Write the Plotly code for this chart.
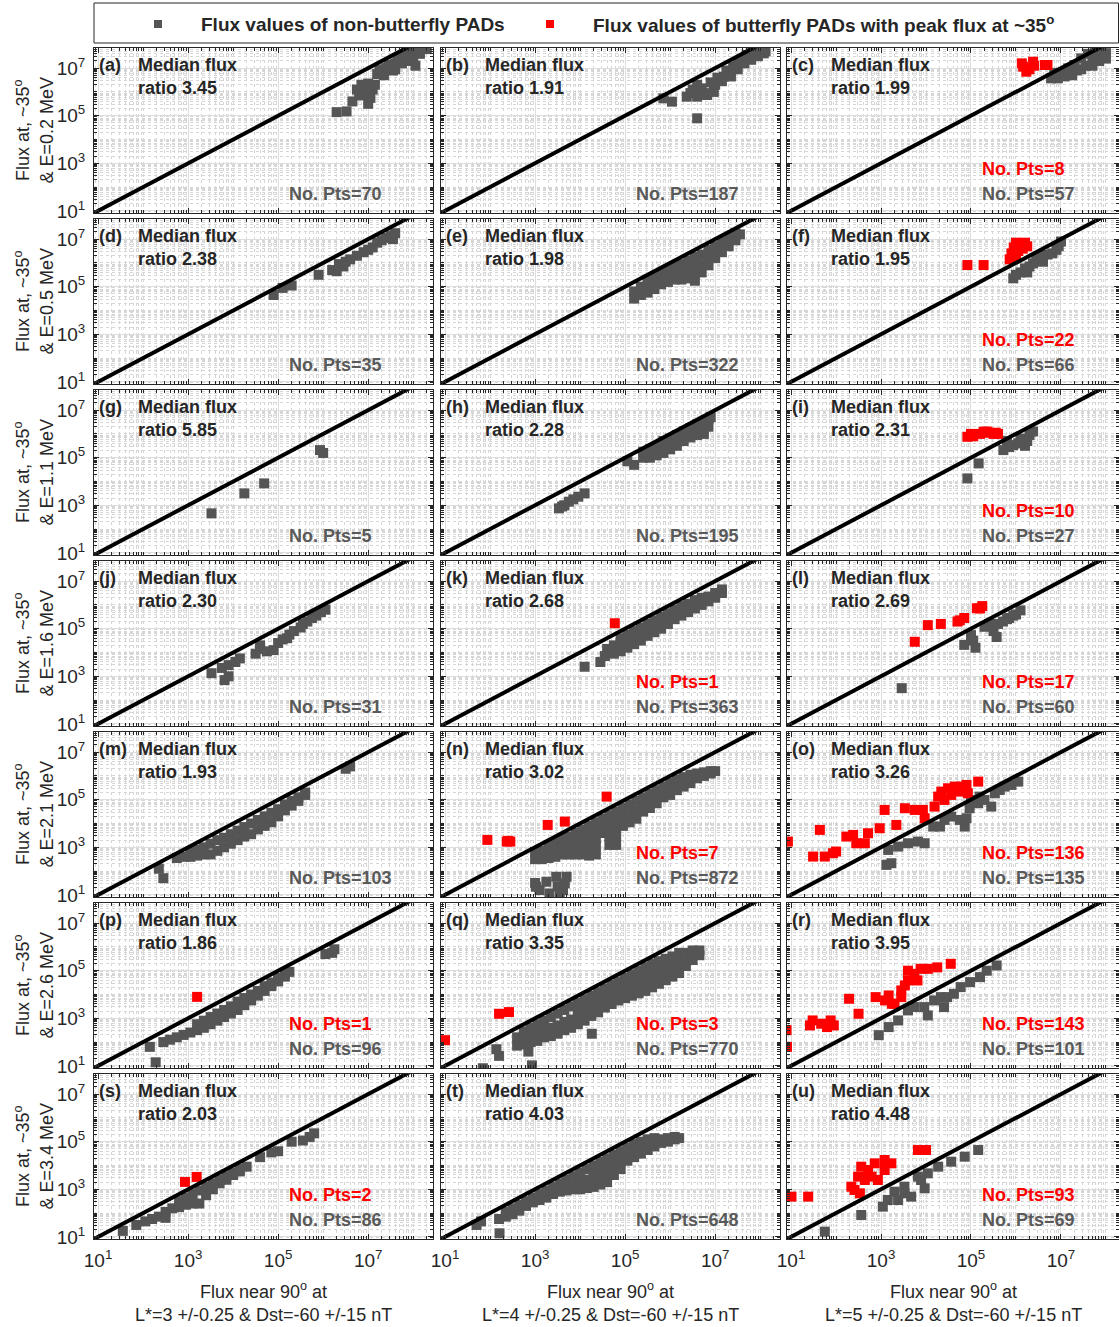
import plotly.graph_objects as go

W, H = 1119, 1327
FONT = "Liberation Sans, Arial, sans-serif"
GREY = "#555555"
RED = "#ff0000"
TXT = "#262626"

# ---------------- data (log10 of flux values) -------------
letters = list("abcdefghijklmnopqrstu")
energies = ["0.2", "0.5", "1.1", "1.6", "2.1", "2.6", "3.4"]
lstars = ["3", "4", "5"]
ratios = ["3.45", "1.91", "1.99", "2.38", "1.98", "1.95", "5.85", "2.28", "2.31",
          "2.30", "2.68", "2.69", "1.93", "3.02", "3.26", "1.86", "3.35", "3.95",
          "2.03", "4.03", "4.48"]
n_grey = [70, 187, 57, 35, 322, 66, 5, 195, 27, 31, 363, 60, 103, 872, 135, 96, 770,
          101, 86, 648, 69]
n_red = [None, None, 8, None, None, 22, None, None, 10, None, 1, 17, None, 7, 136, 1,
         3, 143, 2, None, 93]

grey_a = [(6.3, 5.15), (6.52, 5.18), (6.65, 5.6), (6.75, 6.1), (6.8, 5.85), (6.85, 6.3),
          (6.9, 5.9), (6.95, 6.25), (7.0, 5.5), (7.0, 6.35), (7.05, 5.75), (7.1, 6.1),
          (7.15, 6.3), (7.2, 6.75), (7.25, 6.95), (7.3, 6.9), (7.35, 6.7), (7.4, 7.0),
          (7.45, 7.15), (7.5, 7.1), (7.55, 6.9), (7.6, 7.2), (7.6, 6.95), (7.65, 7.4),
          (7.7, 7.35), (7.75, 7.2), (7.8, 7.5), (7.85, 7.6), (7.85, 7.3), (7.9, 7.65),
          (7.95, 7.45), (8.0, 7.75), (8.0, 7.5), (8.05, 7.1), (8.1, 7.75), (8.15, 7.6),
          (8.2, 7.8), (8.3, 7.8)]
grey_b = [(5.85, 5.73), (6.04, 5.59), (6.37, 5.8), (6.45, 5.95), (6.5, 6.1), (6.6, 5.8),
          (6.6, 6.3), (6.6, 4.89), (6.7, 6.15), (6.75, 5.95), (6.82, 5.87), (6.9, 6.4),
          (6.97, 6.0), (7.0, 6.3), (7.05, 6.6), (7.15, 6.45), (7.19, 6.64), (7.25, 6.9),
          (7.34, 6.8), (7.35, 6.65), (7.4, 7.05), (7.49, 7.13), (7.5, 6.95), (7.55, 7.3),
          (7.64, 7.41), (7.65, 7.2), (7.7, 7.55), (7.79, 7.62), (7.8, 7.35), (7.85, 7.75),
          (7.94, 7.76), (7.95, 7.5), (8.0, 7.65), (8.08, 7.62), (8.12, 7.7)]
grey_c = [(6.78, 6.57), (6.85, 6.8), (6.93, 6.57), (7.0, 6.78), (7.08, 6.65), (7.16, 6.99),
          (7.2, 6.85), (7.25, 6.7), (7.3, 7.13), (7.35, 6.9), (7.45, 7.41), (7.45, 6.95),
          (7.55, 7.1), (7.6, 7.6), (7.7, 7.1), (7.7, 7.35), (7.75, 7.76), (7.85, 7.3),
          (7.85, 7.55), (7.9, 7.76), (8.0, 7.63), (8.0, 7.4)]
red_c = [(6.13, 7.2), (6.16, 7.06), (6.23, 6.85), (6.3, 6.95), (6.38, 7.27), (6.4, 7.1),
         (6.64, 7.13), (6.7, 7.13)]
grey_d = [(4.9, 4.65), (5.1, 4.95), (5.3, 5.05), (5.9, 5.5), (6.2, 5.7), (6.3, 5.65),
          (6.35, 5.95), (6.45, 5.85), (6.5, 6.05), (6.6, 6.15), (6.75, 6.3), (6.9, 6.45),
          (7.0, 6.55), (7.1, 6.65), (7.2, 6.85), (7.3, 6.95), (7.4, 7.05), (7.5, 7.15),
          (7.55, 7.0), (7.6, 7.25)]
grey_e = [(5.2, 4.5), (5.2, 4.8), (5.35, 4.65), (5.35, 5.0), (5.5, 4.75), (5.5, 5.05),
          (5.5, 5.3), (5.65, 4.9), (5.65, 5.2), (5.65, 5.4), (5.8, 5.1), (5.8, 5.4),
          (5.8, 5.55), (5.95, 5.2), (5.95, 5.5), (5.95, 5.7), (6.1, 5.3), (6.1, 5.6),
          (6.1, 5.85), (6.25, 5.3), (6.25, 5.6), (6.25, 5.95), (6.4, 5.35), (6.4, 5.7),
          (6.4, 6.1), (6.55, 5.25), (6.55, 5.6), (6.55, 5.9), (6.55, 6.25), (6.7, 5.6),
          (6.7, 5.95), (6.7, 6.35), (6.85, 5.9), (6.85, 6.2), (6.85, 6.55), (7.0, 6.2),
          (7.0, 6.5), (7.0, 6.7), (7.15, 6.45), (7.15, 6.75), (7.15, 6.9), (7.3, 6.7),
          (7.3, 6.95), (7.3, 7.05), (7.45, 6.95), (7.45, 7.15), (7.45, 7.25), (7.55, 7.2)]
grey_f = [(5.94, 5.35), (6.0, 5.5), (6.1, 5.6), (6.2, 5.77), (6.25, 5.6), (6.3, 5.85),
          (6.38, 5.98), (6.45, 6.1), (6.5, 6.2), (6.6, 6.05), (6.6, 6.3), (6.7, 6.35),
          (6.81, 6.4), (6.9, 6.55), (6.95, 6.7), (7.0, 6.9)]
red_f = [(4.92, 5.91), (5.28, 5.91), (5.86, 6.15), (5.9, 6.4), (5.95, 6.65), (6.0, 6.85),
         (6.0, 6.25), (6.05, 6.5), (6.1, 6.8), (6.15, 6.6), (6.2, 6.85), (6.25, 6.7)]
grey_g = [(3.52, 2.66), (4.25, 3.5), (4.69, 3.92), (5.93, 5.32), (6.0, 5.2)]
grey_h = [(3.53, 2.87), (3.6, 2.95), (3.65, 3.0), (3.75, 3.15), (3.85, 3.25), (3.96, 3.36),
          (4.1, 3.5), (5.05, 4.85), (5.2, 4.7), (5.4, 5.0), (5.4, 5.25), (5.55, 5.0),
          (5.55, 5.35), (5.7, 5.1), (5.7, 5.45), (5.85, 5.2), (5.85, 5.55), (5.85, 5.7),
          (6.0, 5.35), (6.0, 5.65), (6.0, 5.8), (6.15, 5.5), (6.15, 5.8), (6.15, 5.95),
          (6.3, 5.7), (6.3, 5.95), (6.3, 6.1), (6.45, 5.85), (6.45, 6.1), (6.45, 6.25),
          (6.6, 5.95), (6.6, 6.25), (6.6, 6.4), (6.75, 6.0), (6.75, 6.35), (6.75, 6.5),
          (6.85, 6.3), (6.85, 6.6), (6.9, 6.7)]
grey_i = [(4.92, 4.13), (5.17, 4.76), (5.72, 5.32), (5.8, 5.7), (5.85, 5.45), (5.94, 5.53),
          (6.05, 5.6), (6.1, 5.8), (6.2, 5.5), (6.25, 5.7), (6.3, 5.95), (6.38, 6.1)]
red_i = [(4.92, 5.88), (5.0, 6.0), (5.05, 5.9), (5.2, 6.0), (5.28, 6.09), (5.35, 6.1),
         (5.4, 6.05), (5.5, 6.0), (5.55, 6.05), (5.6, 6.0)]
grey_j = [(3.52, 3.13), (3.75, 3.35), (3.81, 2.84), (3.9, 3.0), (3.9, 3.47), (4.05, 3.6),
          (4.15, 3.75), (4.5, 3.95), (4.6, 4.15), (4.6, 4.3), (4.75, 4.05), (4.9, 4.1),
          (5.0, 4.4), (5.1, 4.55), (5.2, 4.6), (5.25, 4.75), (5.35, 4.9), (5.5, 5.05),
          (5.55, 5.2), (5.65, 5.3), (5.75, 5.45), (5.85, 5.55), (5.95, 5.7), (6.05, 5.8)]
grey_k = [(4.1, 3.4), (4.45, 3.6), (4.55, 3.85), (4.6, 4.15), (4.75, 3.95), (4.75, 4.3),
          (4.9, 4.05), (4.9, 4.4), (4.9, 4.6), (5.05, 4.2), (5.05, 4.55), (5.05, 4.75),
          (5.2, 4.35), (5.2, 4.7), (5.2, 4.9), (5.35, 4.5), (5.35, 4.85), (5.35, 5.05),
          (5.5, 4.7), (5.5, 5.0), (5.5, 5.2), (5.65, 4.85), (5.65, 5.15), (5.65, 5.35),
          (5.8, 5.0), (5.8, 5.3), (5.8, 5.5), (5.95, 5.2), (5.95, 5.45), (5.95, 5.65),
          (6.1, 5.4), (6.1, 5.6), (6.1, 5.8), (6.25, 5.55), (6.25, 5.75), (6.25, 5.95),
          (6.4, 5.7), (6.4, 5.9), (6.4, 6.05), (6.55, 5.85), (6.55, 6.05), (6.55, 6.2),
          (6.7, 6.0), (6.7, 6.2), (6.7, 6.3), (6.85, 6.15), (6.85, 6.35), (7.0, 6.3),
          (7.0, 6.5), (7.15, 6.5), (7.15, 6.65)]
red_k = [(4.77, 5.23)]
grey_l = [(3.46, 2.5), (4.85, 4.32), (5.0, 4.73), (5.05, 4.5), (5.1, 4.2), (5.3, 5.08),
          (5.4, 5.2), (5.5, 4.9), (5.57, 4.65), (5.6, 5.2), (5.71, 5.3), (5.8, 5.4),
          (5.85, 5.45), (5.94, 5.55), (6.0, 5.6), (6.1, 5.77)]
red_l = [(3.75, 4.45), (4.04, 5.15), (4.33, 5.2), (4.7, 5.3), (4.75, 5.35), (4.85, 5.45),
         (5.13, 5.86), (5.2, 5.85), (5.25, 5.95)]
grey_m = [(2.35, 2.1), (2.45, 1.7), (2.75, 2.55), (2.9, 2.6), (3.05, 2.6), (3.05, 2.8),
          (3.2, 2.65), (3.2, 2.9), (3.35, 2.7), (3.35, 3.0), (3.5, 2.7), (3.5, 3.15),
          (3.65, 2.85), (3.65, 3.3), (3.8, 3.0), (3.8, 3.4), (3.95, 3.15), (3.95, 3.55),
          (4.1, 3.3), (4.1, 3.7), (4.25, 3.45), (4.25, 3.85), (4.4, 3.55), (4.4, 4.0),
          (4.55, 3.75), (4.55, 4.15), (4.7, 3.9), (4.7, 4.3), (4.85, 4.05), (4.85, 4.45),
          (5.0, 4.3), (5.0, 4.6), (5.15, 4.55), (5.15, 4.8), (5.3, 4.75), (5.3, 4.95),
          (5.45, 4.95), (5.45, 5.1), (5.6, 5.2), (5.6, 5.3), (6.5, 6.3), (6.6, 6.4)]
grey_n = [(3.0, 2.5), (3.0, 2.8), (3.15, 2.5), (3.15, 2.85), (3.3, 2.55), (3.3, 2.9),
          (3.3, 3.05), (3.45, 2.6), (3.45, 2.95), (3.45, 3.2), (3.6, 2.7), (3.6, 3.0),
          (3.6, 3.35), (3.75, 2.7), (3.75, 3.05), (3.75, 3.45), (3.9, 2.7), (3.9, 3.05),
          (3.9, 3.4), (3.9, 3.6), (4.05, 2.7), (4.05, 3.05), (4.05, 3.4), (4.05, 3.75),
          (4.2, 2.65), (4.2, 3.0), (4.2, 3.35), (4.2, 3.7), (4.2, 3.9), (4.35, 2.7),
          (4.35, 3.05), (4.35, 3.4), (4.35, 3.75), (4.35, 4.05), (4.5, 3.6), (4.5, 3.9),
          (4.5, 4.2), (4.65, 3.1), (4.65, 3.45), (4.65, 3.8), (4.65, 4.1), (4.65, 4.35),
          (4.8, 3.1), (4.8, 3.45), (4.8, 3.8), (4.8, 4.15), (4.8, 4.5), (4.95, 3.9),
          (4.95, 4.25), (4.95, 4.65), (5.1, 4.05), (5.1, 4.4), (5.1, 4.8), (5.25, 4.2),
          (5.25, 4.55), (5.25, 4.95), (5.4, 4.5), (5.4, 4.8), (5.4, 5.1), (5.55, 4.65),
          (5.55, 4.95), (5.55, 5.25), (5.7, 4.85), (5.7, 5.1), (5.7, 5.4), (5.85, 5.1),
          (5.85, 5.3), (5.85, 5.55), (6.0, 5.2), (6.0, 5.45), (6.0, 5.7), (6.15, 5.4),
          (6.15, 5.6), (6.15, 5.85), (6.3, 5.55), (6.3, 5.8), (6.3, 5.95), (6.45, 5.7),
          (6.45, 5.9), (6.45, 6.05), (6.6, 5.9), (6.6, 6.1), (6.75, 6.0), (6.75, 6.15),
          (6.9, 6.1), (6.9, 6.2), (7.0, 6.2),
          (3.0, 1.5), (3.02, 1.34), (3.1, 1.2), (3.25, 1.55), (3.32, 1.06), (3.47, 1.76),
          (3.5, 1.35), (3.62, 1.2), (3.66, 1.48), (3.7, 1.76), (3.55, 1.0)]
red_n = [(1.94, 3.31), (2.37, 3.24), (2.4, 3.27), (2.45, 3.24), (3.28, 3.94), (3.66, 4.08),
         (4.59, 5.13)]
grey_o = [(3.12, 2.26), (3.23, 2.33), (3.16, 2.89), (3.38, 3.03), (3.6, 3.17), (3.82, 3.24),
          (3.97, 3.17), (4.16, 3.87), (4.31, 3.87), (4.41, 4.15), (4.56, 4.29), (4.75, 4.15),
          (4.86, 3.87), (4.9, 4.22), (4.97, 4.64), (5.0, 4.99), (5.16, 4.85), (5.19, 5.13),
          (5.3, 4.99), (5.45, 4.71), (5.53, 5.27), (5.64, 5.41), (5.75, 5.55), (5.9, 5.62),
          (6.05, 5.76)]
red_o = [(0.93, 3.24), (1.49, 2.61), (1.64, 3.73), (1.75, 2.61), (1.93, 2.75), (2.0, 2.82),
         (2.23, 3.45), (2.38, 3.52), (2.45, 3.17), (2.64, 3.17), (2.71, 3.59), (2.97, 3.8),
         (3.08, 4.57), (3.34, 3.94), (3.53, 4.64), (3.75, 4.57), (3.93, 4.57), (3.97, 4.22),
         (4.19, 4.71), (4.27, 5.13), (4.34, 5.34), (4.41, 4.99), (4.49, 5.48), (4.56, 5.2),
         (4.64, 5.55), (4.75, 5.34), (4.79, 5.55), (4.9, 5.62), (4.93, 5.27), (5.16, 5.76)]
grey_p = [(2.15, 1.8), (2.28, 1.15), (2.45, 2.0), (2.6, 2.1), (2.75, 2.2), (2.9, 2.3),
          (3.05, 2.4), (3.2, 2.5), (3.2, 2.75), (3.35, 2.6), (3.35, 2.9), (3.5, 2.75),
          (3.5, 3.05), (3.65, 2.9), (3.65, 3.2), (3.8, 3.05), (3.8, 3.35), (3.95, 3.2),
          (3.95, 3.5), (4.1, 3.35), (4.1, 3.7), (4.25, 3.55), (4.25, 3.85), (4.4, 3.75),
          (4.4, 4.0), (4.55, 3.95), (4.55, 4.15), (4.7, 4.15), (4.7, 4.35), (4.85, 4.35),
          (4.85, 4.5), (5.0, 4.55), (5.0, 4.7), (5.15, 4.75), (5.15, 4.85), (5.25, 4.95),
          (6.05, 5.7), (6.2, 5.75), (6.25, 5.9)]
red_p = [(3.2, 3.9)]
grey_q = [(2.6, 1.85), (2.6, 2.2), (2.75, 1.9), (2.75, 2.25), (2.75, 2.45), (2.9, 2.0),
          (2.9, 2.35), (2.9, 2.6), (3.05, 2.05), (3.05, 2.4), (3.05, 2.75), (3.2, 2.2),
          (3.2, 2.55), (3.2, 2.9), (3.35, 2.25), (3.35, 2.6), (3.35, 3.05), (3.5, 2.35),
          (3.5, 2.7), (3.5, 3.2), (3.65, 2.5), (3.65, 2.85), (3.65, 3.35), (3.8, 2.6),
          (3.8, 2.95), (3.8, 3.5), (3.95, 2.75), (3.95, 3.1), (3.95, 3.4), (3.95, 3.65),
          (4.1, 2.9), (4.1, 3.25), (4.1, 3.55), (4.1, 3.8), (4.25, 3.1), (4.25, 3.4),
          (4.25, 3.7), (4.25, 3.95), (4.4, 3.25), (4.4, 3.55), (4.4, 3.85), (4.4, 4.1),
          (4.55, 3.45), (4.55, 3.75), (4.55, 4.0), (4.55, 4.25), (4.7, 3.6), (4.7, 3.9),
          (4.7, 4.15), (4.7, 4.4), (4.85, 3.75), (4.85, 4.05), (4.85, 4.3), (4.85, 4.55),
          (5.0, 3.85), (5.0, 4.15), (5.0, 4.45), (5.0, 4.7), (5.15, 3.95), (5.15, 4.3),
          (5.15, 4.6), (5.15, 4.85), (5.3, 4.05), (5.3, 4.4), (5.3, 4.75), (5.3, 5.0),
          (5.45, 4.15), (5.45, 4.5), (5.45, 4.85), (5.45, 5.15), (5.6, 4.3), (5.6, 4.65),
          (5.6, 5.0), (5.6, 5.3), (5.75, 4.45), (5.75, 4.8), (5.75, 5.15), (5.75, 5.4),
          (5.9, 4.6), (5.9, 4.95), (5.9, 5.3), (5.9, 5.5), (6.05, 4.75), (6.05, 5.1),
          (6.05, 5.4), (6.05, 5.6), (6.2, 4.9), (6.2, 5.25), (6.2, 5.55), (6.2, 5.75),
          (6.35, 5.2), (6.35, 5.5), (6.35, 5.75), (6.5, 5.45), (6.5, 5.7), (6.5, 5.85),
          (6.65, 5.65), (6.65, 5.85),
          (1.84, 0.9), (2.2, 1.42), (2.14, 1.7), (2.93, 1.02), (2.85, 1.6), (4.26, 2.35)]
red_q = [(1.0, 2.08), (2.2, 3.19), (2.42, 3.26)]
grey_r = [(2.95, 2.29), (3.17, 2.63), (3.38, 2.91), (3.6, 3.33), (3.74, 3.47), (3.96, 3.47),
          (4.04, 3.12), (4.18, 3.75), (4.33, 3.89), (4.4, 3.47), (4.47, 3.89), (4.62, 4.03),
          (4.77, 4.31), (4.98, 4.52), (5.2, 4.73), (5.35, 5.0), (5.57, 5.22)]
red_r = [(0.9, 2.5), (0.91, 1.8), (1.42, 2.7), (1.48, 2.91), (1.67, 2.77), (1.8, 2.63),
         (1.88, 2.91), (1.95, 2.7), (2.29, 3.82), (2.5, 3.19), (2.88, 3.89), (3.09, 3.75),
         (3.17, 3.96), (3.24, 3.61), (3.3, 3.61), (3.45, 3.89), (3.45, 4.17), (3.53, 4.38),
         (3.6, 4.59), (3.6, 5.0), (3.74, 4.87), (3.81, 4.59), (3.88, 5.08), (4.04, 5.08),
         (4.25, 5.14), (4.55, 5.29)]
grey_s = [(1.55, 1.25), (1.85, 1.5), (2.05, 1.65), (2.2, 1.75), (2.35, 1.85), (2.5, 1.8),
          (2.5, 2.05), (2.65, 2.2), (2.8, 2.25), (2.8, 2.5), (2.95, 2.35), (2.95, 2.65),
          (3.1, 2.4), (3.1, 2.8), (3.25, 2.4), (3.25, 2.95), (3.4, 2.75), (3.4, 3.1),
          (3.55, 3.0), (3.55, 3.25), (3.7, 3.25), (3.7, 3.4), (3.85, 3.4), (3.85, 3.55),
          (4.0, 3.6), (4.0, 3.7), (4.15, 3.75), (4.15, 3.85), (4.3, 3.95), (4.6, 4.35),
          (4.85, 4.55), (5.0, 4.6), (5.3, 5.0), (5.55, 5.05), (5.7, 5.2), (5.8, 5.35)]
red_s = [(2.93, 3.31), (3.19, 3.52)]
grey_t = [(1.7, 1.5), (1.8, 1.65), (2.21, 1.15), (2.2, 1.75), (2.35, 1.85), (2.35, 2.05),
          (2.5, 1.95), (2.5, 2.2), (2.65, 2.1), (2.65, 2.35), (2.8, 2.3), (2.8, 2.5),
          (2.95, 2.45), (2.95, 2.65), (3.1, 2.55), (3.1, 2.8), (3.25, 2.65), (3.25, 2.95),
          (3.4, 2.8), (3.4, 3.1), (3.55, 2.9), (3.55, 3.25), (3.7, 2.95), (3.7, 3.3),
          (3.7, 3.4), (3.85, 3.0), (3.85, 3.3), (3.85, 3.55), (4.0, 3.0), (4.0, 3.35),
          (4.0, 3.7), (4.15, 3.05), (4.15, 3.4), (4.15, 3.85), (4.3, 3.1), (4.3, 3.45),
          (4.3, 3.75), (4.3, 4.0), (4.45, 3.2), (4.45, 3.55), (4.45, 3.9), (4.45, 4.15),
          (4.6, 3.3), (4.6, 3.65), (4.6, 4.0), (4.6, 4.3), (4.75, 3.6), (4.75, 3.9),
          (4.75, 4.2), (4.75, 4.45), (4.9, 3.85), (4.9, 4.15), (4.9, 4.4), (4.9, 4.6),
          (5.05, 4.2), (5.05, 4.45), (5.05, 4.75), (5.2, 4.35), (5.2, 4.6), (5.2, 4.9),
          (5.35, 4.5), (5.35, 4.75), (5.35, 5.0), (5.5, 4.65), (5.5, 4.9), (5.5, 5.1),
          (5.65, 4.8), (5.65, 5.0), (5.65, 5.15), (5.8, 4.95), (5.8, 5.1), (5.95, 5.0),
          (5.95, 5.15), (6.1, 5.1), (6.1, 5.2), (6.2, 5.15)]
grey_u = [(1.75, 1.22), (2.56, 1.92), (3.04, 2.27), (3.15, 2.55), (3.3, 2.9), (3.38, 2.55),
          (3.52, 2.83), (3.52, 3.11), (3.67, 2.69), (3.82, 3.53), (3.89, 3.39), (3.97, 3.04),
          (4.04, 3.67), (4.27, 3.95), (4.56, 4.16), (4.86, 4.37), (5.16, 4.65)]
red_u = [(1.01, 2.69), (1.38, 2.69), (2.34, 3.11), (2.41, 2.97), (2.49, 3.53), (2.53, 2.83),
         (2.56, 3.95), (2.64, 3.39), (2.71, 3.81), (2.79, 3.53), (2.86, 4.09), (2.93, 3.39),
         (3.08, 4.23), (3.08, 3.81), (3.23, 4.09), (3.82, 4.65), (4.0, 4.65)]

grey_sets = [grey_a, grey_b, grey_c, grey_d, grey_e, grey_f, grey_g, grey_h, grey_i,
             grey_j, grey_k, grey_l, grey_m, grey_n, grey_o, grey_p, grey_q, grey_r,
             grey_s, grey_t, grey_u]
red_sets = [[], [], red_c, [], [], red_f, [], [], red_i, [], red_k, red_l, [], red_n,
            red_o, red_p, red_q, red_r, red_s, [], red_u]
diag_line = [8.0, 1e9]   # one-to-one reference line

# ---------------- layout geometry (pixels) ----------------
COLS = [(94, 433), (441, 780), (787, 1119)]
XR = [(0.91, 8.44), (0.91, 8.44), (0.91, 8.29)]
YR = (0.91, 7.85)
T0, PITCH, PH = 47.9, 171.0, 165.1

major = [1e1, 1e3, 1e5, 1e7]
major_txt = ["10<sup>1</sup>", "10<sup>3</sup>", "10<sup>5</sup>", "10<sup>7</sup>"]
minor_vals = [m * 10 ** e for e in range(0, 10) for m in range(1, 10)
              if not (m == 1 and e in (1, 3, 5, 7))]


def px_x(px):
    return px / W


def px_y(py):
    return 1 - py / H


fig = go.Figure()
annotations = []


def ann(text, px, py, size=18, color=TXT, xanchor="left", yanchor="middle", angle=0):
    annotations.append(dict(text=text, x=px_x(px), y=px_y(py), xref="paper", yref="paper",
                            showarrow=False, xanchor=xanchor, yanchor=yanchor,
                            textangle=angle, font=dict(family=FONT, size=size, color=color)))


for i in range(21):
    r, c = divmod(i, 3)
    k = i + 1
    xa = "x" if k == 1 else f"x{k}"
    ya = "y" if k == 1 else f"y{k}"
    L, R = COLS[c]
    T = T0 + PITCH * r
    B = T + PH
    axis_common = dict(type="log", showline=True, linecolor=TXT, linewidth=1, mirror="ticks",
                       ticks="inside", ticklen=5, tickcolor=TXT, tickmode="array",
                       tickvals=major, ticktext=major_txt, showgrid=True, automargin=False,
                       gridcolor="#dedede", gridwidth=1, zeroline=False,
                       tickfont=dict(family=FONT, size=19, color=TXT),
                       minor=dict(tickmode="array", tickvals=minor_vals, ticks="inside",
                                  ticklen=3, tickcolor=TXT, showgrid=True,
                                  gridcolor="#d6d6d6", griddash="dot", gridwidth=1))
    fig.update_layout({
        ("xaxis" if k == 1 else f"xaxis{k}"): dict(
            axis_common, domain=[px_x(L), px_x(R)], range=list(XR[c]), anchor=ya,
            showticklabels=(r == 6), ticklabelstandoff=4),
        ("yaxis" if k == 1 else f"yaxis{k}"): dict(
            axis_common, domain=[px_y(B), px_y(T)], range=list(YR), anchor=xa,
            showticklabels=(c == 0), ticklabelstandoff=4),
    })
    g = grey_sets[i]
    fig.add_trace(go.Scatter(x=[10 ** p[0] for p in g], y=[10 ** p[1] for p in g],
                             mode="markers", xaxis=xa, yaxis=ya, showlegend=False,
                             marker=dict(symbol="square", size=10, color=GREY, line=dict(width=0))))
    rd = red_sets[i]
    if rd:
        fig.add_trace(go.Scatter(x=[10 ** p[0] for p in rd], y=[10 ** p[1] for p in rd],
                                 mode="markers", xaxis=xa, yaxis=ya, showlegend=False,
                                 marker=dict(symbol="square", size=10, color=RED, line=dict(width=0))))
    fig.add_trace(go.Scatter(x=diag_line, y=diag_line, mode="lines", xaxis=xa, yaxis=ya,
                             showlegend=False, line=dict(color="black", width=4)))

    ann(f"<b>({letters[i]})</b>", L + 3, T + 17)
    ann("<b>Median flux</b>", L + 42, T + 17)
    ann(f"<b>ratio {ratios[i]}</b>", L + 42, T + 40)
    ann(f"<b>No. Pts={n_grey[i]}</b>", L + 193, B - 19, color="#5a5a5a")
    if n_red[i] is not None:
        ann(f"<b>No. Pts={n_red[i]}</b>", L + 193, B - 44, color=RED)

    if c == 0:
        ann(f"Flux at, ~35<sup>o</sup><br>& E={energies[r]} MeV", 34, (T + B) / 2,
            xanchor="center", angle=-90)
    if r == 6:
        ann(f"Flux near 90<sup>o</sup> at<br>L*={lstars[c]} +/-0.25 & Dst=-60 +/-15 nT",
            (L + R) / 2, 1302, xanchor="center")

# legend box
shapes = [
    dict(type="rect", xref="paper", yref="paper", x0=px_x(94), x1=px_x(1118.5),
         y0=px_y(43), y1=px_y(3), line=dict(color=TXT, width=1), fillcolor="white"),
    dict(type="rect", xref="paper", yref="paper", x0=px_x(154), x1=px_x(162),
         y0=px_y(28), y1=px_y(20), line=dict(width=0), fillcolor=GREY),
    dict(type="rect", xref="paper", yref="paper", x0=px_x(546), x1=px_x(554),
         y0=px_y(28), y1=px_y(20), line=dict(width=0), fillcolor=RED),
]
ann("<b>Flux values of non-butterfly PADs</b>", 199, 24, size=19)
ann("<b>Flux values of butterfly PADs with peak flux at ~35<sup>o</sup></b>", 591, 24, size=19)

fig.update_layout(width=W, height=H, margin=dict(l=0, r=0, t=0, b=0, autoexpand=False),
                  paper_bgcolor="white", plot_bgcolor="white",
                  annotations=annotations, shapes=shapes, showlegend=False)
fig.write_html("out.html")
